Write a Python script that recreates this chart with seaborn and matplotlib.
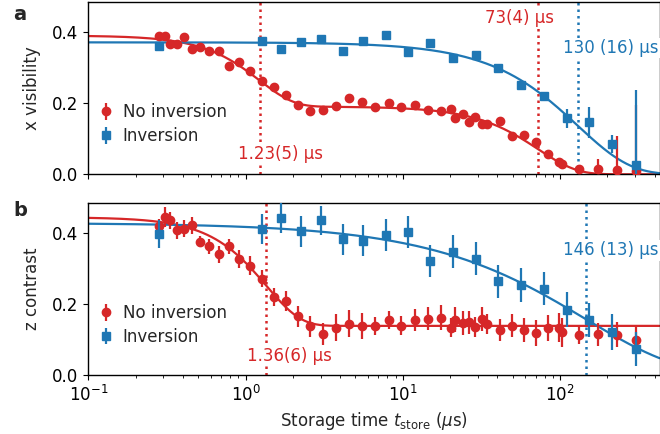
import numpy as np
import pandas as pd
import matplotlib
matplotlib.use("Agg")
import matplotlib.pyplot as plt
import seaborn as sns

RED = "#d62728"
BLUE = "#1f77b4"

# ---------------- (a) x visibility ----------------
t_vis_red = [0.28, 0.308, 0.33, 0.365, 0.406, 0.455, 0.514, 0.584, 0.676, 0.783,
             0.915, 1.07, 1.27, 1.51, 1.81, 2.15, 2.58, 3.1, 3.77, 4.55,
             5.53, 6.64, 8.13, 9.8, 11.9, 14.5, 17.6, 20.3, 21.6, 24.2,
             26.4, 29.0, 32.0, 34.4, 41.4, 49.4, 58.9, 70.3, 84.3, 99.0,
             103.0, 133.0, 175.0, 232.0, 306.0]
vis_red = [0.387, 0.389, 0.366, 0.365, 0.384, 0.350, 0.356, 0.345, 0.347, 0.305,
           0.316, 0.289, 0.262, 0.244, 0.222, 0.194, 0.178, 0.181, 0.192, 0.215,
           0.204, 0.188, 0.199, 0.190, 0.194, 0.179, 0.178, 0.183, 0.159, 0.169,
           0.148, 0.162, 0.141, 0.142, 0.150, 0.108, 0.110, 0.091, 0.057, 0.034,
           0.030, 0.014, 0.014, 0.011, 0.010]
vis_red_err = [0.006] * 41 + [0.008, 0.030, 0.097, 0.184]

t_vis_blue = [0.28, 1.28, 1.69, 2.24, 3.03, 4.14, 5.63, 7.82, 10.8, 15.0,
              20.9, 29.1, 40.6, 56.6, 78.9, 111.0, 154.0, 216.0, 303.0]
vis_blue = [0.359, 0.374, 0.352, 0.370, 0.379, 0.346, 0.373, 0.392, 0.344, 0.369,
            0.326, 0.335, 0.299, 0.251, 0.219, 0.157, 0.146, 0.085, 0.026]
vis_blue_err = [0.006] * 14 + [0.012, 0.026, 0.043, 0.025, 0.210]

# ---------------- (b) z contrast ----------------
t_con_red = t_vis_red
con_red = [0.418, 0.443, 0.434, 0.406, 0.411, 0.420, 0.375, 0.361, 0.339, 0.361,
           0.325, 0.307, 0.271, 0.220, 0.209, 0.165, 0.137, 0.114, 0.133, 0.144,
           0.137, 0.138, 0.155, 0.139, 0.155, 0.158, 0.161, 0.133, 0.155, 0.146,
           0.148, 0.135, 0.158, 0.144, 0.126, 0.139, 0.126, 0.118, 0.132, 0.133,
           0.120, 0.113, 0.114, 0.113, 0.099]
con_red_err = [0.020, 0.028, 0.025, 0.023, 0.023, 0.023, 0.016, 0.020, 0.023, 0.022,
               0.025, 0.026, 0.025, 0.025, 0.028, 0.030, 0.030, 0.032, 0.037, 0.038,
               0.037, 0.026, 0.026, 0.027, 0.030, 0.032, 0.035, 0.026, 0.035, 0.035,
               0.032, 0.028, 0.033, 0.028, 0.030, 0.033, 0.034, 0.036, 0.037, 0.040,
               0.040, 0.027, 0.032, 0.035, 0.036]

t_con_blue = t_vis_blue
con_blue = [0.395, 0.409, 0.440, 0.404, 0.434, 0.381, 0.377, 0.393, 0.403, 0.319,
            0.346, 0.327, 0.263, 0.253, 0.242, 0.183, 0.155, 0.121, 0.074]
con_blue_err = [0.039, 0.042, 0.042, 0.044, 0.040, 0.043, 0.044, 0.044, 0.045, 0.045,
                0.046, 0.047, 0.046, 0.047, 0.046, 0.049, 0.047, 0.050, 0.048]

# Fitted decay parameters (times in microseconds)
vis_red_fit = dict(a_fast=0.199, t_fast=1.23, a_slow=0.19, t_slow=73.0, n_slow=1.8)
vis_blue_fit = dict(a=0.37, tau=130.0, n=1.3)
con_red_fit = dict(a_fast=0.305, t_fast=1.36, offset=0.138)
con_blue_fit = dict(a=0.427, tau=146.0, n=0.73)

tau_labels_a = [(1.23, RED, "1.23(5) µs", 1.68, 0.058),
                (73.0, RED, "73(4) µs", 55.0, 0.437),
                (130.0, BLUE, "130 (16) µs", 210.0, 0.354)]
tau_labels_b = [(1.36, RED, "1.36(6) µs", 1.89, 0.054),
                (146.0, BLUE, "146 (13) µs", 210.0, 0.350)]

# Smooth curves from the fitted models
t_fine = np.logspace(-1, np.log10(430), 400)
p = vis_red_fit
fit_vis_red = (p["a_fast"] * np.exp(-(t_fine / p["t_fast"]) ** 2) + p["a_slow"]) \
    * np.exp(-(t_fine / p["t_slow"]) ** p["n_slow"])
p = vis_blue_fit
fit_vis_blue = p["a"] * np.exp(-(t_fine / p["tau"]) ** p["n"])
p = con_red_fit
fit_con_red = p["a_fast"] * np.exp(-(t_fine / p["t_fast"]) ** 2) + p["offset"]
p = con_blue_fit
fit_con_blue = p["a"] * np.exp(-(t_fine / p["tau"]) ** p["n"])

sns.set_style("ticks")
plt.rcParams["font.family"] = ["DejaVu Sans"]
plt.rcParams["font.size"] = 12
plt.rcParams["xtick.labelsize"] = 12
plt.rcParams["ytick.labelsize"] = 12
plt.rcParams["axes.labelsize"] = 12
plt.rcParams["axes.edgecolor"] = "black"
plt.rcParams["axes.linewidth"] = 1.0
plt.rcParams["xtick.color"] = "black"
plt.rcParams["ytick.color"] = "black"

fig = plt.figure(figsize=(6.6, 4.34), dpi=100)
ax_a = fig.add_axes([88.3 / 660, 1 - 174.3 / 434, 571.2 / 660, 172.6 / 434])
ax_b = fig.add_axes([88.3 / 660, 1 - 375.0 / 434, 571.2 / 660, 172.3 / 434], sharex=ax_a)


def draw_panel(ax, t_r, y_r, e_r, fr, t_b, y_b, e_b, fb, taus, ylabel):
    curves = pd.DataFrame({"t": np.concatenate([t_fine, t_fine]),
                           "y": np.concatenate([fr, fb]),
                           "series": ["red"] * len(t_fine) + ["blue"] * len(t_fine)})
    sns.lineplot(data=curves, x="t", y="y", hue="series",
                 palette={"red": RED, "blue": BLUE}, lw=1.6, legend=False,
                 ax=ax, zorder=2)
    ax.errorbar(t_r, y_r, yerr=e_r, fmt="o", color=RED, ms=6, elinewidth=1.6,
                capsize=0, zorder=3, label="No inversion")
    ax.errorbar(t_b, y_b, yerr=e_b, fmt="s", color=BLUE, ms=6, elinewidth=1.6,
                capsize=0, zorder=4, label="Inversion")
    for tau, col, txt, tx, ty in taus:
        ax.axvline(tau, color=col, ls=(0, (1, 1.6)), lw=1.8, zorder=1)
        ax.text(tx, ty, txt, color=col, ha="center", va="center", fontsize=12,
                zorder=5, bbox=dict(facecolor="white", edgecolor="none", pad=1.0))
    ax.set_xscale("log")
    ax.set_xlim(0.1, 430)
    ax.set_ylim(0, 0.484)
    ax.set_yticks([0.0, 0.2, 0.4])
    ax.set_ylabel(ylabel)
    ax.legend(loc="center left", bbox_to_anchor=(-0.01, 0.29), frameon=False,
              fontsize=12, handlelength=1.0, handletextpad=0.5, labelspacing=0.35)
    ax.tick_params(which="both", direction="out")


draw_panel(ax_a, t_vis_red, vis_red, vis_red_err, fit_vis_red,
           t_vis_blue, vis_blue, vis_blue_err, fit_vis_blue, tau_labels_a, "x visibility")
draw_panel(ax_b, t_con_red, con_red, con_red_err, fit_con_red,
           t_con_blue, con_blue, con_blue_err, fit_con_blue, tau_labels_b, "z contrast")

ax_a.set_xlabel("")
ax_a.tick_params(labelbottom=False)
ax_b.set_xlabel(r"Storage time $t_{\rm store}$ ($\mu$s)")

fig.text(20 / 660, 1 - 14 / 434, "a", fontsize=14, fontweight="bold", ha="center", va="center")
fig.text(20 / 660, 1 - 210 / 434, "b", fontsize=14, fontweight="bold", ha="center", va="center")
ax_a.yaxis.set_label_coords(-0.083, 0.5)
ax_b.yaxis.set_label_coords(-0.083, 0.5)

fig.savefig("out.png", dpi=100)
